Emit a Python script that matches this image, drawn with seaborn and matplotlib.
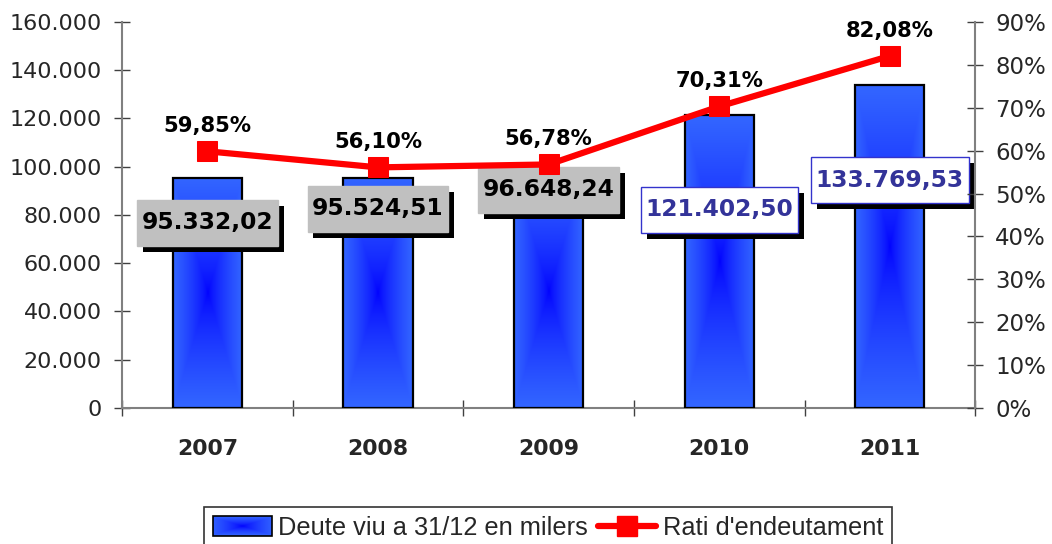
import numpy as np
import pandas as pd
import matplotlib
matplotlib.use("Agg")
import matplotlib.pyplot as plt
import matplotlib.patheffects as pe
from matplotlib.patches import Patch, Rectangle
from matplotlib.lines import Line2D
from matplotlib.path import Path
from matplotlib.image import BboxImage
from matplotlib.transforms import Bbox, TransformedBbox
from matplotlib.legend_handler import HandlerPatch
from matplotlib.ticker import FuncFormatter, FixedLocator
import seaborn as sns

# --- data ---
years = ["2007", "2008", "2009", "2010", "2011"]
deute = [95332.02, 95524.51, 96648.24, 121402.50, 133769.53]
ratio = [59.85, 56.10, 56.78, 70.31, 82.08]

# layout for the value boxes (y of box centre, in data units)
box_y = [76700, 82500, 90400, 82100, 94500]
box_gray = [True, True, True, False, False]

sns.set_style("white")
plt.rcParams['font.family'] = ['DejaVu Sans']

df = pd.DataFrame({"year": years, "deute": deute, "ratio": ratio})

# gradient image: dark blue centre fading to lighter blue edges
dark = np.array([0.0, 0.0, 1.0])
light = np.array([0.2, 0.4, 1.0])
gy, gx = np.mgrid[-1:1:200j, -1:1:100j]
tt = np.clip(np.maximum(np.abs(gx), np.abs(gy)) ** 0.7, 0, 1)
grad = dark[None, None, :] + (light - dark)[None, None, :] * tt[..., None]


def wide_box(x0, y0, width, height, mutation_size):
    # label box: small side padding, taller top/bottom padding
    px, py = 0.2 * mutation_size, 0.5 * mutation_size
    x0, y0, x1, y1 = x0 - px, y0 - py, x0 + width + px, y0 + height + py
    return Path([(x0, y0), (x1, y0), (x1, y1), (x0, y1), (x0, y0)], closed=True)


class GradientHandler(HandlerPatch):
    def create_artists(self, legend, orig_handle, xdescent, ydescent,
                       width, height, fontsize, trans):
        rect = Rectangle((-xdescent, -ydescent), width, height,
                         facecolor="none", edgecolor="black", lw=1.2,
                         transform=trans)
        gy2, gx2 = np.mgrid[-1:1:40j, -1:1:120j]
        t2 = np.clip(np.maximum(np.abs(gx2) * 0.9, np.abs(gy2)) ** 0.7, 0, 1)
        g2 = dark[None, None, :] + (light - dark)[None, None, :] * t2[..., None]
        bb = TransformedBbox(Bbox.from_bounds(-xdescent, -ydescent, width, height), trans)
        img = BboxImage(bb, interpolation="bilinear")
        img.set_data(g2)
        return [img, rect]


fig = plt.figure(figsize=(10.52, 5.44), dpi=100)
ax = fig.add_axes([0.116, 0.25, 0.811, 0.7096])

sns.barplot(data=df, x="year", y="deute", ax=ax, width=0.405,
            color="#3366FF", edgecolor="black", linewidth=1.6, saturation=1, zorder=3)

for p in ax.patches:
    x0, y0 = p.get_x(), p.get_y()
    w, h = p.get_width(), p.get_height()
    im = ax.imshow(grad, extent=[x0, x0 + w, y0, y0 + h], origin="lower",
                   aspect="auto", zorder=2.9, interpolation="bilinear")
    im.set_clip_path(p)
    p.set_facecolor("none")

ax.set_xlim(-0.5, len(years) - 0.5)
ax.set_ylim(0, 160000)
ax.yaxis.set_major_locator(FixedLocator(np.arange(0, 160001, 20000)))
ax.yaxis.set_major_formatter(FuncFormatter(lambda v, _: f"{int(v):,}".replace(",", ".")))
ax.set_xlabel("")
ax.set_ylabel("")

# value boxes
for i, v in enumerate(deute):
    txt = f"{v:,.2f}".replace(",", "X").replace(".", ",").replace("X", ".")
    if box_gray[i]:
        fc, ec, tc = "#C0C0C0", "#C0C0C0", "black"
    else:
        fc, ec, tc = "white", "#3333CC", "#333399"
    t_ = ax.text(i, box_y[i], txt, ha="center", va="center", fontsize=16.8,
                 fontweight="bold", color=tc, zorder=6,
                 bbox=dict(boxstyle=wide_box, fc=fc, ec=ec, lw=1))
    t_.get_bbox_patch().set_path_effects([
        pe.SimplePatchShadow(offset=(4.3, -4.3), shadow_rgbFace="black", alpha=1),
        pe.Normal()])

# ratio line on right axis
ax2 = ax.twinx()
sns.lineplot(x=np.arange(len(years)), y=ratio, ax=ax2, color="#FF0000",
             linewidth=4.5, marker="s", markersize=14, markeredgecolor="#FF0000",
             zorder=5)
ax2.set_ylim(0, 90)
ax2.yaxis.set_major_locator(FixedLocator(np.arange(0, 91, 10)))
ax2.yaxis.set_major_formatter(FuncFormatter(lambda v, _: f"{int(v)}%"))
ax2.set_xlim(-0.5, len(years) - 0.5)
for i, r in enumerate(ratio):
    ax2.annotate(f"{r:.2f}%".replace(".", ","), (i, r), xytext=(0, 18),
                 textcoords="offset points", ha="center", va="center",
                 fontsize=15.2, fontweight="bold", color="black")

# axes styling
for a in (ax, ax2):
    for s in a.spines.values():
        s.set_visible(False)
ax.spines["left"].set_visible(True)
ax.spines["bottom"].set_visible(True)
ax2.spines["right"].set_visible(True)
for s in (ax.spines["left"], ax.spines["bottom"], ax2.spines["right"]):
    s.set_color("#808080")
    s.set_linewidth(1.5)

ax.tick_params(axis="y", direction="inout", length=11, width=1, color="#404040",
               labelsize=16, pad=9, left=True)
ax2.tick_params(axis="y", direction="inout", length=11, width=1, color="#404040",
                labelsize=16.5, pad=9, right=True)
ax.set_xticks(range(len(years)))
ax.set_xticklabels(years, fontweight="bold", fontsize=15.8)
ax.tick_params(axis="x", which="major", length=0, pad=22)
ax.set_xticks(np.arange(-0.5, len(years)), minor=True)
ax.tick_params(axis="x", which="minor", direction="inout", length=11, width=1,
               color="#404040", bottom=True)
ax.grid(False)
ax2.grid(False)

# legend
handles = [Patch(facecolor="#3366FF", edgecolor="black", linewidth=1.2),
           Line2D([0], [0], color="#FF0000", linewidth=4.5, marker="s",
                  markersize=14)]
leg = fig.legend(handles, ["Deute viu a 31/12 en milers", "Rati d'endeutament"],
                 loc="upper center", bbox_to_anchor=(0.521, 0.068), ncol=2,
                 frameon=True, fancybox=False, edgecolor="black",
                 prop={"family": "Liberation Sans", "size": 18.3},
                 handlelength=2.3, handleheight=0.8, handletextpad=0.25,
                 columnspacing=0.4, borderpad=0.35, borderaxespad=0,
                 handler_map={Patch: GradientHandler()})
leg.get_frame().set_linewidth(1.2)

fig.savefig("out.png", dpi=100)
